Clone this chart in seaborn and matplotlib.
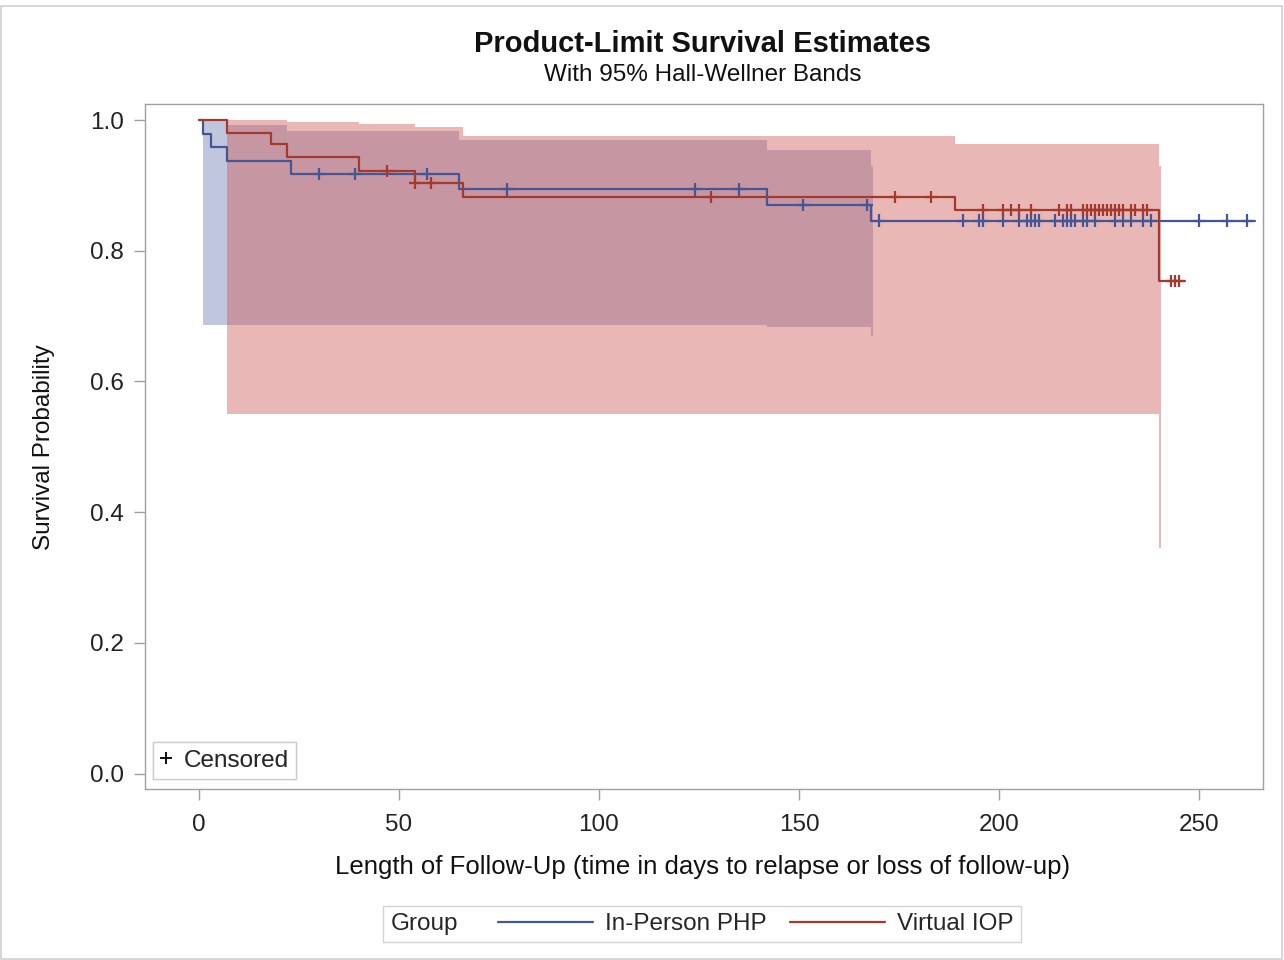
import numpy as np
import pandas as pd
import matplotlib
matplotlib.use("Agg")
import matplotlib.pyplot as plt
from matplotlib.lines import Line2D
from matplotlib.patches import Rectangle
from matplotlib.offsetbox import HPacker
import seaborn as sns

# ---------------- data ----------------
groups = ["In-Person PHP", "Virtual IOP"]
colors = {"In-Person PHP": "#445694", "Virtual IOP": "#A23A2E"}
band_colors = {"In-Person PHP": "#6F7EB3", "Virtual IOP": "#D05B5B"}

# Kaplan-Meier step functions (time of step, survival after step); last entry = end of follow-up
php_times = [0, 1, 3, 7, 23, 65, 142, 168, 264]
php_surv = [1.0, 0.979, 0.958, 0.937, 0.917, 0.894, 0.870, 0.846, 0.846]
iop_times = [0, 7, 18, 22, 40, 54, 66, 189, 240, 246.5]
iop_surv = [1.0, 0.980, 0.963, 0.944, 0.922, 0.904, 0.882, 0.862, 0.754, 0.754]

# censored times
php_cens = [30, 39, 57, 77, 124, 135, 151, 167, 170, 191, 195, 196, 201, 205, 207, 208,
            209, 210, 214, 216, 217, 218, 219, 221, 222, 224, 229, 231, 233, 236, 238,
            250, 257, 262]
iop_cens = [47, 54, 58, 128, 174, 183, 196, 201, 203, 205, 208, 215, 217, 218, 221, 222,
            223, 224, 225, 226, 227, 228, 229, 230, 231, 233, 234, 236, 237, 243, 244, 245]

# Hall-Wellner bands (step start times, last entry = end of band)
php_band_t = [1, 7, 22, 65, 142, 168, 168.6]
php_band_hi = [1.0, 0.992, 0.983, 0.969, 0.954, 0.930, 0.930]
php_band_lo = [0.686, 0.686, 0.686, 0.686, 0.683, 0.669, 0.669]
iop_band_t = [7, 22, 40, 54, 66, 189, 240, 240.4]
iop_band_hi = [1.0, 0.997, 0.994, 0.989, 0.975, 0.963, 0.929, 0.929]
iop_band_lo = [0.550, 0.550, 0.550, 0.550, 0.550, 0.550, 0.345, 0.345]

x_ticks = [0, 50, 100, 150, 200, 250]
y_ticks = [0.0, 0.2, 0.4, 0.6, 0.8, 1.0]

title = "Product-Limit Survival Estimates"
subtitle = "With 95% Hall-Wellner Bands"
xlabel = "Length of Follow-Up (time in days to relapse or loss of follow-up)"
ylabel = "Survival Probability"

# ---------------- tables ----------------
curves = pd.concat([
    pd.DataFrame({"time": php_times, "surv": php_surv, "Group": groups[0]}),
    pd.DataFrame({"time": iop_times, "surv": iop_surv, "Group": groups[1]}),
], ignore_index=True)


def surv_at(times, surv, t):
    idx = np.searchsorted(np.asarray(times), np.asarray(t), side="right") - 1
    return np.asarray(surv)[idx]


cens = pd.concat([
    pd.DataFrame({"time": php_cens, "surv": surv_at(php_times, php_surv, php_cens), "Group": groups[0]}),
    pd.DataFrame({"time": iop_cens, "surv": surv_at(iop_times, iop_surv, iop_cens), "Group": groups[1]}),
], ignore_index=True)

# ---------------- plot ----------------
sns.set_style("ticks")
plt.rcParams["font.family"] = ["Liberation Sans", "DejaVu Sans"]

FS = 17.5
fig = plt.figure(figsize=(12.84, 9.6), dpi=100)
ax = fig.add_axes([145 / 1284, 1 - 789 / 960, (1263 - 145) / 1284, (789 - 104) / 960])

for g, bt, hi, lo in [(groups[0], php_band_t, php_band_hi, php_band_lo),
                      (groups[1], iop_band_t, iop_band_hi, iop_band_lo)]:
    ax.fill_between(bt, lo, hi, step="post", color=band_colors[g], alpha=0.44,
                    linewidth=0, zorder=1)

sns.lineplot(data=curves, x="time", y="surv", hue="Group", palette=colors,
             drawstyle="steps-post", estimator=None, linewidth=1.6, ax=ax,
             legend=False, zorder=3)
sns.scatterplot(data=cens, x="time", y="surv", hue="Group", palette=colors,
                marker="+", s=80, linewidth=1.6, ax=ax, legend=False, zorder=4)

ax.set_xlim(-13.5, 266)
ax.set_ylim(-0.0235, 1.0245)
ax.set_xticks(x_ticks)
ax.set_yticks(y_ticks)
ax.set_yticklabels([f"{v:.1f}" for v in y_ticks])
ax.tick_params(axis="both", length=8, width=1, color="#a0a0a0", labelsize=FS,
               labelcolor="#222222", pad=7)
ax.tick_params(axis="x", pad=10)
for sp in ax.spines.values():
    sp.set_color("#a0a0a0")
    sp.set_linewidth(1)
    sp.set_visible(True)
ax.set_xlabel("")
ax.set_ylabel("")

fig.text(0.547, 1 - 44 / 960, title, ha="center", va="center", fontsize=21,
         fontweight="bold", color="#111111")
fig.text(0.547, 1 - 75 / 960, subtitle, ha="center", va="center", fontsize=17.5,
         color="#111111")
fig.text(0.547, 1 - 867 / 960, xlabel, ha="center", va="center", fontsize=18.5,
         color="#111111")
fig.text(44 / 1284, 1 - 447 / 960, ylabel, ha="center", va="center", fontsize=FS,
         rotation=90, color="#111111")

# censored legend inside the axes
cens_handle = Line2D([], [], color="black", marker="+", linestyle="none",
                     markersize=8, markeredgewidth=1.3)
leg1 = ax.legend([cens_handle], ["Censored"], loc="lower left",
                 bbox_to_anchor=(8 / 1118, 10 / 685), borderaxespad=0,
                 frameon=True, fancybox=False, edgecolor="#c8c8c8",
                 fontsize=FS, handlelength=0.5, handletextpad=0.45,
                 borderpad=0.3)
leg1.get_frame().set_linewidth(1)
ax.add_artist(leg1)

# group legend below the axes, title to the left
handles = [Line2D([], [], color=colors[g], linewidth=1.6) for g in groups]
leg2 = fig.legend(handles, groups, title="Group", ncol=2, loc="center",
                  bbox_to_anchor=(702 / 1284, 1 - 924 / 960), frameon=True,
                  fancybox=False, edgecolor="#c8c8c8", fontsize=FS,
                  title_fontsize=FS, handlelength=3.9, handletextpad=0.5,
                  columnspacing=0.95, borderpad=0.3)
leg2.get_frame().set_linewidth(1)
box = leg2.get_children()[0]
title_box = box.get_children()[0]
hpack = box.get_children()[1]
box._children = [HPacker(children=[title_box, hpack], align="center", pad=0, sep=29)]

# light outer border
fig.patches.append(Rectangle((0.0008, 0.001), 0.9976, 0.993, transform=fig.transFigure,
                             fill=False, edgecolor="#d0d0d0", linewidth=1.2))

fig.savefig("out.png", dpi=100)
